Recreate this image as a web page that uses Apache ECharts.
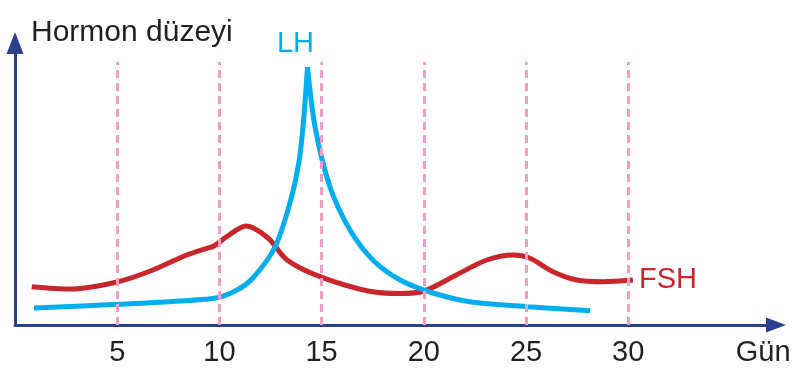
<!DOCTYPE html>
<html>
<head>
<meta charset="utf-8">
<script src="https://cdn.jsdelivr.net/npm/echarts@6/dist/echarts.min.js"></script>
<style>html,body{margin:0;padding:0;background:#fff;}#c{width:801px;height:380px;}</style>
</head>
<body>
<div id="c"></div>
<script>
// Day (x) and hormone level (y, arbitrary units)
const lhDays   = [0.93, 5.04, 9.74, 10.86, 11.64, 12.72, 13.45, 13.89, 14.11, 14.31, 14.68, 15.41, 16.39, 17.51, 18.84, 20.45, 22.26, 25.1, 28.13];
const lhLevels = [17, 20.7, 26.7, 35, 47, 78, 122, 163, 203, 258, 198, 138, 95, 65, 45, 32, 23.3, 18.3, 14.3];
const lhPeakIndex = 9;

const fshDays   = [0.82, 2.69, 5.04, 6.75, 8.4, 9.38, 9.74, 10.36, 11.3, 12.38, 13.31, 14.92, 17.27, 18.84, 20.01, 21.43, 23.08, 24.38, 25.2, 26.32, 27.48, 28.77, 30.23];
const fshLevels = [38.3, 36, 43.3, 55, 70, 76.7, 79, 88.3, 99, 87, 65, 48.3, 34, 31.5, 34, 48.3, 65, 70, 66.7, 53.3, 45, 43.3, 45];

const gridDays = [5, 10, 15, 20, 25, 30];
const tickValues = [5, 10, 15, 20, 25, 30, 36.6];
const tickLabels = ['5', '10', '15', '20', '25', '30', 'Gün'];
const dashTop = 263;

const lhPairs = lhDays.map((d, i) => [d, lhLevels[i]]);
const fshPairs = fshDays.map((d, i) => [d, fshLevels[i]]);

const FONT = '"Liberation Sans", Arial, Helvetica, sans-serif';
const AXIS = '#2c408f';
const CYAN = '#00aeef';
const RED = '#c9252c';

const chart = echarts.init(document.getElementById('c'), null, {renderer: 'canvas'});
chart.setOption({
  animation: false,
  backgroundColor: '#ffffff',
  title: {
    text: 'Hormon düzeyi',
    left: 31, top: 18, padding: 0,
    textStyle: {fontFamily: FONT, fontSize: 30, fontWeight: 'normal', color: '#231f20'}
  },
  grid: {left: 15, right: 25, top: 43, bottom: 55, containLabel: false},
  xAxis: {
    type: 'value', min: 0, max: 37.23,
    axisLine: {show: true, lineStyle: {color: AXIS, width: 3}, symbol: ['none', 'triangle'], symbolSize: [15, 20]},
    axisTick: {show: false},
    splitLine: {show: false},
    axisLabel: {
      show: true, customValues: tickValues, margin: 13,
      fontFamily: FONT, fontSize: 29, color: '#231f20',
      formatter: v => { const i = tickValues.indexOf(v); return i >= 0 ? tickLabels[i] : ''; }
    }
  },
  yAxis: {
    type: 'value', min: 0, max: 282,
    axisLine: {show: true, lineStyle: {color: AXIS, width: 3}, symbol: ['none', 'triangle'], symbolSize: [17, 22]},
    axisTick: {show: false}, axisLabel: {show: false}, splitLine: {show: false}
  },
  series: [
    {
      type: 'line', z: 1, data: [], silent: true,
      markLine: {
        silent: true, symbol: ['none', 'none'], label: {show: false},
        lineStyle: {color: '#ef9fc6', width: 3, type: [8, 5]},
        data: gridDays.map(d => [{coord: [d, 0]}, {coord: [d, dashTop]}])
      }
    },
    {
      name: 'FSH', type: 'line', z: 3, data: fshPairs, smooth: 0.3, showSymbol: false,
      lineStyle: {color: RED, width: 5}, itemStyle: {color: RED},
      endLabel: {show: true, formatter: 'FSH', distance: 6, fontFamily: FONT, fontSize: 29, color: RED}
    },
    {
      name: 'LH', type: 'line', z: 4, data: lhPairs.slice(0, lhPeakIndex + 1), smooth: 0.3, showSymbol: false,
      lineStyle: {color: CYAN, width: 5}, itemStyle: {color: CYAN},
      markPoint: {
        symbol: 'circle', symbolSize: 1, itemStyle: {color: 'rgba(0,0,0,0)'},
        label: {show: true, position: 'inside', offset: [-12, -23], formatter: 'LH', fontFamily: FONT, fontSize: 29, color: CYAN},
        data: [{coord: lhPairs[lhPeakIndex]}]
      }
    },
    {
      name: 'LH', type: 'line', z: 4, data: lhPairs.slice(lhPeakIndex), smooth: 0.3, showSymbol: false,
      lineStyle: {color: CYAN, width: 5}, itemStyle: {color: CYAN}
    }
  ]
});
</script>
</body>
</html>
